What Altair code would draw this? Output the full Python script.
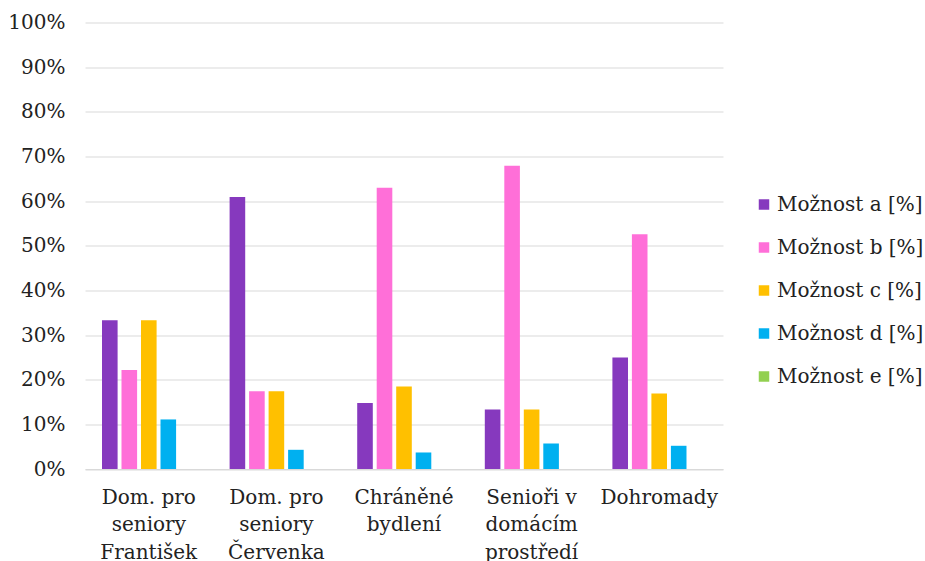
import altair as alt
import pandas as pd

# Category labels; "|" marks a line break on the x axis
categories = [
    "Dom. pro|seniory|František",
    "Dom. pro|seniory|Červenka",
    "Chráněné|bydlení",
    "Senioři v|domácím|prostředí",
    "Dohromady",
]
series = ["Možnost a [%]", "Možnost b [%]", "Možnost c [%]", "Možnost d [%]", "Možnost e [%]"]

option_a = [33.3, 60.9, 14.8, 13.3, 25.0]
option_b = [22.2, 17.4, 63.0, 67.9, 52.6]
option_c = [33.3, 17.4, 18.5, 13.3, 16.9]
option_d = [11.1, 4.3, 3.7, 5.7, 5.2]
option_e = [0.0, 0.0, 0.0, 0.0, 0.0]

colors = ["#8639BE", "#FF6FD8", "#FFC000", "#00B0F0", "#92D050"]
y_ticks = list(range(0, 101, 10))

rows = []
for name, values in zip(series, [option_a, option_b, option_c, option_d, option_e]):
    for cat, v in zip(categories, values):
        rows.append({"category": cat, "series": name, "value": v})
df = pd.DataFrame(rows)

FONT = "DejaVu Serif"
FONT_SIZE = 20
TEXT = "#222222"
GRID = "#d9d9d9"

chart = (
    alt.Chart(df)
    .mark_bar()
    .encode(
        x=alt.X(
            "category:N",
            sort=categories,
            scale=alt.Scale(paddingInner=0.236, paddingOuter=0.118),
            axis=alt.Axis(
                title=None,
                labelExpr="split(datum.label, '|')",
                labelAngle=0,
                labelFont=FONT,
                labelFontSize=FONT_SIZE,
                labelLineHeight=27.5,
                labelColor=TEXT,
                labelPadding=18,
                ticks=False,
                domainColor=GRID,
                domainWidth=1,
                grid=False,
            ),
        ),
        xOffset=alt.XOffset(
            "series:N", sort=series, scale=alt.Scale(paddingInner=0.2, paddingOuter=0.1)
        ),
        y=alt.Y(
            "value:Q",
            scale=alt.Scale(domain=[0, 100], nice=False),
            axis=alt.Axis(
                title=None,
                values=y_ticks,
                labelExpr="datum.value + '%'",
                labelFont=FONT,
                labelFontSize=FONT_SIZE,
                labelColor=TEXT,
                labelPadding=20,
                ticks=False,
                tickSize=0,
                domain=False,
                gridColor=GRID,
                gridWidth=1,
            ),
        ),
        color=alt.Color(
            "series:N",
            sort=series,
            scale=alt.Scale(domain=series, range=colors),
            legend=alt.Legend(
                title=None,
                orient="none",
                legendX=669,
                legendY=172,
                symbolType="square",
                symbolSize=110,
                symbolStrokeWidth=0,
                labelFont=FONT,
                labelFontSize=FONT_SIZE,
                labelColor=TEXT,
                labelOffset=3,
                rowPadding=23,
                padding=0,
                labelLimit=300,
            ),
        ),
    )
    .properties(
        width=638,
        height=446.5,
        autosize="none",
        padding={"left": 85, "top": 22.5, "right": 202, "bottom": 92},
        background="white",
    )
    .configure_view(stroke=None)
)

chart.save("out.html", embed_options={"renderer": "svg", "actions": False})
